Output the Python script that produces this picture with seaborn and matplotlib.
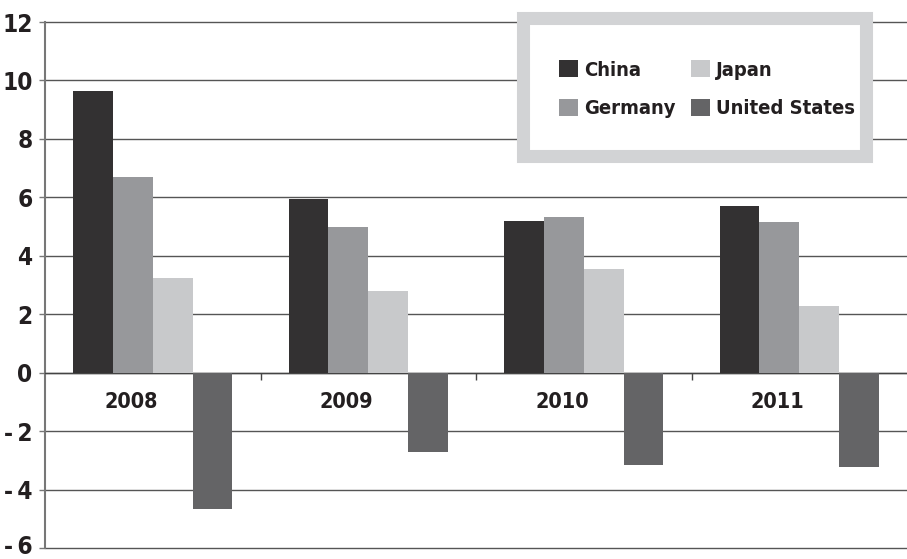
import numpy as np
import pandas as pd
import matplotlib
matplotlib.use('Agg')
import matplotlib.pyplot as plt
from matplotlib.patches import Rectangle
from matplotlib.transforms import ScaledTranslation
import seaborn as sns

years = ['2008', '2009', '2010', '2011']
countries = ['China', 'Germany', 'Japan', 'United States']
china = [9.65, 5.95, 5.2, 5.7]
germany = [6.7, 5.0, 5.33, 5.16]
japan = [3.25, 2.8, 3.55, 2.28]
usa = [-4.68, -2.7, -3.17, -3.22]
colors = ['#333132', '#97989b', '#c8c9cb', '#646466']
yticks = [-6, -4, -2, 0, 2, 4, 6, 8, 10, 12]
ytick_labels = ['-\u20096', '-\u20094', '-\u20092', '0', '2', '4', '6', '8', '10', '12']

sns.set_style("white")
plt.rcParams['font.family'] = ['DejaVu Sans']
plt.rcParams['font.stretch'] = 'condensed'
plt.rcParams['font.weight'] = 'bold'

df = pd.DataFrame({
    'year': years * 4,
    'country': np.repeat(countries, len(years)),
    'value': china + germany + japan + usa,
})

fig = plt.figure(figsize=(9.07, 5.59), dpi=100)
ax = fig.add_axes([45 / 907, 1 - 548 / 559, 1 - 45 / 907, (548 - 22) / 559])

sns.barplot(data=df, x='year', y='value', hue='country', hue_order=countries,
            order=years, palette=colors, width=0.74, saturation=1,
            errorbar=None, ax=ax, zorder=3, linewidth=0)
handles, labels = ax.get_legend_handles_labels()
ax.get_legend().remove()

ax.set_ylim(-6, 12)
ax.set_xlim(-0.5, 3.5)
ax.set_yticks(yticks)
ax.set_yticklabels(ytick_labels, fontsize=17.5, fontweight='bold', color='#231f20')
ax.yaxis.grid(True, color='#555555', linewidth=1.0, zorder=1)
for gl in ax.get_ygridlines():
    gl.set_clip_on(False)
ax.set_axisbelow(True)
ax.tick_params(axis='y', direction='out', length=4, width=1, color='#777777', pad=5, left=True)

# lift the bottom label a little so it stays inside the figure
lbl = ax.yaxis.get_major_ticks()[0].label1
lbl.set_transform(lbl.get_transform() + ScaledTranslation(0, 4 / 100, fig.dpi_scale_trans))

# category boundary ticks on the zero line
ax.spines['bottom'].set_position(('data', 0))
ax.spines['bottom'].set_color('#444444')
ax.spines['bottom'].set_linewidth(1.0)
ax.set_xticks([0.5, 1.5, 2.5])
ax.set_xticklabels([])
ax.tick_params(axis='x', direction='out', length=5, width=1, color='#444444', bottom=True)
ax.set_xlabel('')
ax.set_ylabel('')
for i, yr in enumerate(years):
    ax.text(i - 0.1, -1.0, yr, ha='center', va='center', fontsize=15.5,
            fontweight='bold', color='#231f20')

for s in ['top', 'right']:
    ax.spines[s].set_visible(False)
ax.spines['left'].set_color('#777777')
ax.spines['left'].set_linewidth(1.5)

# legend box drawn as a figure patch, legend placed inside it
box = Rectangle((522.5 / 907, 1 - 155.5 / 559), 343 / 907, 137 / 559,
                transform=fig.transFigure, facecolor='white', edgecolor='#d2d3d5',
                linewidth=9.4, zorder=2)
fig.patches.append(box)
leg = fig.legend(handles, labels, loc='upper left', bbox_to_anchor=(559 / 907, 1 - 60 / 559),
                 bbox_transform=fig.transFigure, borderaxespad=0, borderpad=0, ncol=2,
                 frameon=False, prop={'size': 14.5, 'weight': 'bold', 'stretch': 'condensed'},
                 handlelength=0.95, handleheight=0.95, handletextpad=0.3,
                 columnspacing=0.75, labelspacing=0.95)
leg.set_zorder(3)
for t in leg.get_texts():
    t.set_color('#231f20')

fig.savefig('out.png', dpi=100)
